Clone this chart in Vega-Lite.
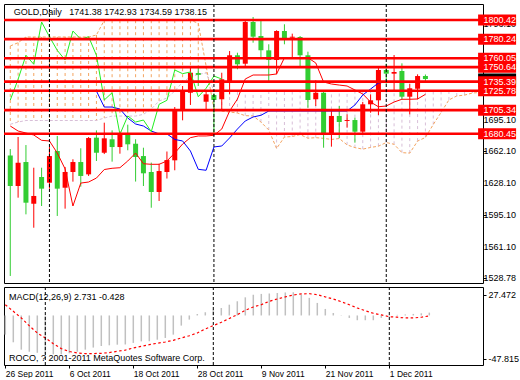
{
  "$schema": "https://vega.github.io/schema/vega-lite/v6.json",
  "padding": {"left": 2, "top": 3, "right": 0, "bottom": 0},
  "spacing": 2,
  "background": "white",
  "config": {
    "view": {"stroke": "#000000", "strokeWidth": 1},
    "axis": {"labelFont": "Liberation Sans", "labelFontSize": 9, "labelColor": "#000000", "tickColor": "#000000", "domain": false, "grid": false, "tickSize": 3, "labelPadding": 2, "labelOverlap": false, "labelBound": false},
    "text": {"font": "Liberation Sans", "fontSize": 9}
  },
  "datasets": {
    "candles": [
      {"i":0,"o":1657.6,"h":1664.3,"l":1530.4,"c":1625.3},
      {"i":1,"o":1625.3,"h":1677.0,"l":1613.0,"c":1649.9},
      {"i":2,"o":1650.6,"h":1668.5,"l":1595.4,"c":1607.7},
      {"i":3,"o":1606.6,"h":1644.6,"l":1581.3,"c":1614.8},
      {"i":4,"o":1634.8,"h":1644.6,"l":1604.2,"c":1622.5},
      {"i":5,"o":1628.8,"h":1666.4,"l":1622.5,"c":1656.9},
      {"i":6,"o":1662.2,"h":1678.1,"l":1593.7,"c":1622.5},
      {"i":7,"o":1623.5,"h":1645.4,"l":1601.4,"c":1640.1},
      {"i":8,"o":1640.1,"h":1653.5,"l":1629.9,"c":1650.6},
      {"i":9,"o":1650.6,"h":1665.1,"l":1624.6,"c":1635.9},
      {"i":10,"o":1637.6,"h":1677.0,"l":1635.9,"c":1675.9},
      {"i":11,"o":1676.3,"h":1684.0,"l":1651.7,"c":1660.4},
      {"i":12,"o":1660.4,"h":1692.1,"l":1659.0,"c":1675.6},
      {"i":13,"o":1674.6,"h":1684.0,"l":1651.0,"c":1666.4},
      {"i":14,"o":1666.4,"h":1683.0,"l":1659.4,"c":1680.5},
      {"i":15,"o":1679.8,"h":1690.0,"l":1663.0,"c":1669.3},
      {"i":16,"o":1669.9,"h":1674.6,"l":1630.0,"c":1655.9},
      {"i":17,"o":1656.9,"h":1665.7,"l":1625.3,"c":1638.7},
      {"i":18,"o":1640.1,"h":1650.0,"l":1602.4,"c":1619.0},
      {"i":19,"o":1619.0,"h":1648.8,"l":1609.5,"c":1641.1},
      {"i":20,"o":1640.1,"h":1661.7,"l":1633.2,"c":1652.7},
      {"i":21,"o":1652.4,"h":1708.6,"l":1641.9,"c":1706.2},
      {"i":22,"o":1704.4,"h":1730.8,"l":1694.6,"c":1725.5},
      {"i":23,"o":1723.7,"h":1751.9,"l":1710.8,"c":1744.8},
      {"i":24,"o":1744.5,"h":1751.9,"l":1730.8,"c":1742.5},
      {"i":25,"o":1714.2,"h":1725.5,"l":1704.4,"c":1722.0},
      {"i":26,"o":1721.3,"h":1723.0,"l":1680.0,"c":1716.0},
      {"i":27,"o":1716.8,"h":1744.8,"l":1706.2,"c":1737.9},
      {"i":28,"o":1736.1,"h":1767.7,"l":1722.0,"c":1763.2},
      {"i":29,"o":1763.2,"h":1765.9,"l":1748.4,"c":1753.7},
      {"i":30,"o":1754.3,"h":1800.0,"l":1751.9,"c":1798.3},
      {"i":31,"o":1798.3,"h":1803.6,"l":1776.5,"c":1782.8},
      {"i":32,"o":1783.5,"h":1800.1,"l":1761.4,"c":1768.4},
      {"i":33,"o":1768.4,"h":1774.8,"l":1735.3,"c":1758.2},
      {"i":34,"o":1758.2,"h":1789.6,"l":1743.1,"c":1788.8},
      {"i":35,"o":1788.8,"h":1795.9,"l":1774.8,"c":1780.1},
      {"i":36,"o":1781.7,"h":1786.0,"l":1760.6,"c":1782.8},
      {"i":37,"o":1782.5,"h":1783.5,"l":1751.9,"c":1763.2},
      {"i":38,"o":1763.2,"h":1767.0,"l":1707.9,"c":1716.0},
      {"i":39,"o":1716.8,"h":1736.8,"l":1709.7,"c":1723.7},
      {"i":40,"o":1723.7,"h":1725.0,"l":1665.7,"c":1679.8},
      {"i":41,"o":1679.8,"h":1704.4,"l":1666.8,"c":1699.2},
      {"i":42,"o":1699.2,"h":1709.7,"l":1675.9,"c":1692.8},
      {"i":43,"o":1693.9,"h":1700.9,"l":1686.8,"c":1694.9},
      {"i":44,"o":1694.9,"h":1697.4,"l":1671.0,"c":1682.6},
      {"i":45,"o":1682.6,"h":1714.0,"l":1680.2,"c":1711.5},
      {"i":46,"o":1711.5,"h":1722.0,"l":1702.6,"c":1715.7},
      {"i":47,"o":1715.7,"h":1750.1,"l":1700.2,"c":1747.7},
      {"i":48,"o":1747.7,"h":1754.3,"l":1733.2,"c":1743.8},
      {"i":49,"o":1743.8,"h":1763.5,"l":1725.5,"c":1745.6},
      {"i":50,"o":1746.6,"h":1754.7,"l":1716.8,"c":1719.5},
      {"i":51,"o":1719.5,"h":1733.2,"l":1700.9,"c":1728.4},
      {"i":52,"o":1727.9,"h":1743.1,"l":1716.8,"c":1741.3},
      {"i":53,"o":1741.38,"h":1742.93,"l":1734.59,"c":1738.15}
    ],
    "tk": [
      {"i":0,"t":1688.6,"k":1725.5},{"i":1,"t":1683.3,"k":1725.5},{"i":2,"t":1681.2,"k":1725.5},
      {"i":3,"t":1679.1,"k":1725.5},{"i":4,"t":1673.5,"k":1725.5},{"i":5,"t":1672.8,"k":1725.5},
      {"i":6,"t":1660.1,"k":1725.5},{"i":7,"t":1643.3,"k":1725.5},{"i":8,"t":1604.2,"k":1725.5},
      {"i":9,"t":1628.4,"k":1725.5},{"i":10,"t":1629.5,"k":1725.5},{"i":11,"t":1633.7,"k":1725.5},
      {"i":12,"t":1642.7,"k":1708.6},{"i":13,"t":1644.0,"k":1708.6},{"i":14,"t":1644.6,"k":1706.5},
      {"i":15,"t":1651.7,"k":1697.0},{"i":16,"t":1660.1,"k":1690.7},{"i":17,"t":1648.8,"k":1688.6},
      {"i":18,"t":1648.2,"k":1683.3},{"i":19,"t":1648.2,"k":1680.2},{"i":20,"t":1651.7,"k":1680.2},
      {"i":21,"t":1660.1,"k":1674.4},{"i":22,"t":1669.6,"k":1672.8},{"i":23,"t":1676.3,"k":1662.2},
      {"i":24,"t":1678.1,"k":1642.9},{"i":25,"t":1678.1,"k":1641.9},{"i":26,"t":1678.8,"k":1666.5},
      {"i":27,"t":1685.4,"k":1667.5},{"i":28,"t":1704.4,"k":1676.0},{"i":29,"t":1717.0,"k":1685.4},
      {"i":30,"t":1738.2,"k":1693.9},{"i":31,"t":1742.4,"k":1698.1},{"i":32,"t":1742.4,"k":1699.9},
      {"i":33,"t":1742.4,"k":1704.4},{"i":34,"t":1743.5,"k":1704.4},{"i":35,"t":1760.6,"k":1704.4},
      {"i":36,"t":1760.6,"k":1704.4},{"i":37,"t":1760.6,"k":1704.4},{"i":38,"t":1760.6,"k":1704.4},
      {"i":39,"t":1755.1,"k":1704.4},{"i":40,"t":1735.0,"k":1704.4},{"i":41,"t":1732.9,"k":1704.4},
      {"i":42,"t":1731.8,"k":1704.4},{"i":43,"t":1730.8,"k":1704.4},{"i":44,"t":1726.6,"k":1710.8},
      {"i":45,"t":1722.4,"k":1721.3},{"i":46,"t":1713.9,"k":1727.6},{"i":47,"t":1708.9,"k":1734.0},
      {"i":48,"t":1709.7,"k":1735.0},{"i":49,"t":1713.9,"k":1735.0},{"i":50,"t":1716.8,"k":1735.0},
      {"i":51,"t":1716.8,"k":1735.0},{"i":52,"t":1717.1,"k":1735.0},{"i":53,"t":1722.0,"k":1735.0}
    ],
    "chikou": [
      {"i":0,"v":1716.0},{"i":1,"v":1737.9},{"i":2,"v":1763.2},{"i":3,"v":1753.7},{"i":4,"v":1798.3},
      {"i":5,"v":1782.8},{"i":6,"v":1768.4},{"i":7,"v":1758.2},{"i":8,"v":1788.8},{"i":9,"v":1780.1},
      {"i":10,"v":1782.8},{"i":11,"v":1763.2},{"i":12,"v":1716.0},{"i":13,"v":1723.7},{"i":14,"v":1679.8},
      {"i":15,"v":1699.2},{"i":16,"v":1692.8},{"i":17,"v":1694.9},{"i":18,"v":1682.6},{"i":19,"v":1711.5},
      {"i":20,"v":1715.7},{"i":21,"v":1747.7},{"i":22,"v":1743.8},{"i":23,"v":1745.6},{"i":24,"v":1719.5},
      {"i":25,"v":1728.4},{"i":26,"v":1741.3},{"i":27,"v":1738.15}
    ],
    "kumo": [
      {"i":0,"a":1773.0,"b":1690.4},{"i":1,"a":1776.5,"b":1692.8},{"i":2,"a":1782.5,"b":1694.4},
      {"i":3,"a":1782.5,"b":1694.4},{"i":4,"a":1782.5,"b":1694.4},{"i":5,"a":1782.5,"b":1694.4},
      {"i":6,"a":1782.5,"b":1694.4},{"i":7,"a":1782.5,"b":1694.4},{"i":8,"a":1782.5,"b":1694.4},
      {"i":9,"a":1782.5,"b":1694.4},{"i":10,"a":1782.5,"b":1694.4},{"i":11,"a":1784.6,"b":1694.4},
      {"i":12,"a":1800.2,"b":1697.0},{"i":13,"a":1800.2,"b":1699.1},{"i":14,"a":1800.2,"b":1699.1},
      {"i":15,"a":1800.2,"b":1699.1},{"i":16,"a":1800.2,"b":1699.1},{"i":17,"a":1800.2,"b":1700.9},
      {"i":18,"a":1800.2,"b":1706.5},{"i":19,"a":1800.2,"b":1715.0},{"i":20,"a":1800.2,"b":1718.1},
      {"i":21,"a":1800.2,"b":1725.5},{"i":22,"a":1800.2,"b":1735.0},{"i":23,"a":1800.2,"b":1740.3},
      {"i":24,"a":1797.0,"b":1743.1},{"i":25,"a":1752.0,"b":1744.5},{"i":26,"a":1707.1,"b":1725.9},
      {"i":27,"a":1704.4,"b":1725.9},{"i":28,"a":1703.4,"b":1725.9},{"i":29,"a":1702.3,"b":1725.9},
      {"i":30,"a":1699.5,"b":1725.9},{"i":31,"a":1699.2,"b":1725.9},{"i":32,"a":1692.8,"b":1725.9},
      {"i":33,"a":1684.4,"b":1725.9},{"i":34,"a":1664.9,"b":1725.9},{"i":35,"a":1677.0,"b":1725.9},
      {"i":36,"a":1677.5,"b":1725.9},{"i":37,"a":1679.6,"b":1725.9},{"i":38,"a":1675.7,"b":1725.9},
      {"i":39,"a":1676.3,"b":1725.9},{"i":40,"a":1675.6,"b":1725.9},{"i":41,"a":1674.4,"b":1725.9},
      {"i":42,"a":1675.4,"b":1725.9},{"i":43,"a":1668.7,"b":1725.9},{"i":44,"a":1665.8,"b":1725.9},
      {"i":45,"a":1664.2,"b":1725.9},{"i":46,"a":1666.0,"b":1725.9},{"i":47,"a":1667.3,"b":1725.9},
      {"i":48,"a":1671.2,"b":1725.9},{"i":49,"a":1669.3,"b":1725.9},{"i":50,"a":1660.5,"b":1725.9},
      {"i":51,"a":1660.0,"b":1725.9},{"i":52,"a":1672.7,"b":1725.9},{"i":53,"a":1676.5,"b":1725.9},
      {"i":54,"a":1690.2,"b":1725.9},{"i":55,"a":1702.9,"b":1725.9},{"i":56,"a":1716.1,"b":1725.9},
      {"i":57,"a":1720.3,"b":1725.9},{"i":58,"a":1721.2,"b":1725.9},{"i":59,"a":1723.4,"b":1725.9},
      {"i":60,"a":1724.0,"b":1725.9}
    ],
    "levels": [
      {"p":1800.42},{"p":1780.24},{"p":1760.05},{"p":1750.64},
      {"p":1735.39},{"p":1725.78},{"p":1705.34},{"p":1680.45}
    ],
    "ticks": [
      {"p":1796.1},{"p":1695.1},{"p":1662.1},
      {"p":1628.1},{"p":1595.1},{"p":1561.1},{"p":1528.78}
    ],
    "price": [{"p":1738.15}],
    "seps": [{"i":5},{"i":26},{"i":48}],
    "notes": [
      {"panel":"main","t":"GOLD,Daily\u00a0\u00a0 1741.38 1742.93 1734.59 1738.15","x":0.45,"y":1808.9},
      {"panel":"macd","t":"MACD(12,26,9) 2.731 -0.428","x":0.45,"y":17.86},
      {"panel":"macd","t":"ROCO, ? 2001-2011 MetaQuotes Software Corp.","x":0.45,"y":-41.0}
    ],
    "macd": [
      {"i":0,"z":0,"m":-18.5,"s":10.4},{"i":1,"z":0,"m":-25.9,"s":4.0},{"i":2,"z":0,"m":-33.0,"s":-2.4},
      {"i":3,"z":0,"m":-35.0,"s":-10.0},{"i":4,"z":0,"m":-36.0,"s":-16.9},{"i":5,"z":0,"m":-37.0,"s":-21.7},
      {"i":6,"z":0,"m":-37.5,"s":-27.2},{"i":7,"z":0,"m":-37.5,"s":-32.0},{"i":8,"z":0,"m":-36.5,"s":-34.8},
      {"i":9,"z":0,"m":-35.0,"s":-36.2},{"i":10,"z":0,"m":-33.0,"s":-36.8},{"i":11,"z":0,"m":-31.0,"s":-36.8},
      {"i":12,"z":0,"m":-29.5,"s":-36.5},{"i":13,"z":0,"m":-28.8,"s":-35.8},{"i":14,"z":0,"m":-28.2,"s":-34.6},
      {"i":15,"z":0,"m":-28.0,"s":-33.4},{"i":16,"z":0,"m":-26.5,"s":-31.4},{"i":17,"z":0,"m":-25.0,"s":-29.8},
      {"i":18,"z":0,"m":-24.9,"s":-28.2},{"i":19,"z":0,"m":-23.4,"s":-26.8},{"i":20,"z":0,"m":-21.7,"s":-25.6},
      {"i":21,"z":0,"m":-18.5,"s":-24.0},{"i":22,"z":0,"m":-9.8,"s":-21.7},{"i":23,"z":0,"m":-4.0,"s":-19.6},
      {"i":24,"z":0,"m":1.4,"s":-16.9},{"i":25,"z":0,"m":3.1,"s":-13.0},{"i":26,"z":0,"m":5.6,"s":-9.8},
      {"i":27,"z":0,"m":7.2,"s":-6.6},{"i":28,"z":0,"m":10.4,"s":-2.9},{"i":29,"z":0,"m":13.7,"s":0.8},
      {"i":30,"z":0,"m":17.5,"s":5.0},{"i":31,"z":0,"m":20.0,"s":8.2},{"i":32,"z":0,"m":20.8,"s":10.4},
      {"i":33,"z":0,"m":21.2,"s":13.7},{"i":34,"z":0,"m":21.7,"s":15.9},{"i":35,"z":0,"m":22.2,"s":17.9},
      {"i":36,"z":0,"m":22.4,"s":19.8},{"i":37,"z":0,"m":20.1,"s":20.8},{"i":38,"z":0,"m":17.0,"s":21.0},
      {"i":39,"z":0,"m":12.1,"s":20.1},{"i":40,"z":0,"m":6.3,"s":17.9},{"i":41,"z":0,"m":2.4,"s":15.9},
      {"i":42,"z":0,"m":-0.3,"s":13.3},{"i":43,"z":0,"m":-2.4,"s":10.4},{"i":44,"z":0,"m":-4.6,"s":7.2},
      {"i":45,"z":0,"m":-4.6,"s":4.6},{"i":46,"z":0,"m":-4.6,"s":2.1},{"i":47,"z":0,"m":-2.4,"s":0.5},
      {"i":48,"z":0,"m":-1.0,"s":-1.2},{"i":49,"z":0,"m":0.6,"s":-1.7},{"i":50,"z":0,"m":1.0,"s":-2.4},
      {"i":51,"z":0,"m":1.5,"s":-2.4},{"i":52,"z":0,"m":2.1,"s":-1.7},{"i":53,"z":0,"m":2.731,"s":-0.428}
    ]
  },
  "vconcat": [
    {
      "width": 479,
      "height": 279,
      "data": {"name": "candles"},
      "layer": [
        {
          "data": {"name": "kumo"},
          "mark": {"type": "rule", "strokeDash": [3, 3], "strokeWidth": 1, "clip": true},
          "encoding": {
            "x": {"field": "i", "type": "quantitative", "scale": {"domain": [-0.1625, 59.7125], "nice": false, "zero": false}, "axis": null},
            "y": {"field": "a", "type": "quantitative", "scale": {"domain": [1522.99, 1817.3], "nice": false, "zero": false},
              "axis": {"orient": "right", "values": [1796.1, 1762.1, 1729.1, 1695.1, 1662.1, 1628.1, 1595.1, 1561.1, 1528.78], "labels": false, "title": null}},
            "y2": {"field": "b"},
            "color": {"condition": {"test": "datum.a >= datum.b", "value": "#F4A460"}, "value": "#D8BFD8"}
          }
        },
        {
          "data": {"name": "kumo"},
          "mark": {"type": "line", "color": "#F4A460", "strokeDash": [3, 2], "strokeWidth": 1, "clip": true},
          "encoding": {
            "x": {"field": "i", "type": "quantitative"},
            "y": {"field": "a", "type": "quantitative"}
          }
        },
        {
          "data": {"name": "kumo"},
          "mark": {"type": "line", "color": "#D8BFD8", "strokeDash": [3, 2], "strokeWidth": 1, "clip": true},
          "encoding": {
            "x": {"field": "i", "type": "quantitative"},
            "y": {"field": "b", "type": "quantitative"}
          }
        },
        {
          "mark": {"type": "rule", "strokeWidth": 1, "clip": true},
          "encoding": {
            "x": {"field": "i", "type": "quantitative"},
            "y": {"field": "l", "type": "quantitative"},
            "y2": {"field": "h"},
            "color": {"condition": {"test": "datum.c < datum.o", "value": "#32CD32"}, "value": "#FF0000"}
          }
        },
        {
          "mark": {"type": "bar", "size": 5, "clip": true},
          "encoding": {
            "x": {"field": "i", "type": "quantitative"},
            "y": {"field": "o", "type": "quantitative"},
            "y2": {"field": "c"},
            "color": {"condition": {"test": "datum.c < datum.o", "value": "#32CD32"}, "value": "#FF0000"}
          }
        },
        {
          "data": {"name": "tk"},
          "mark": {"type": "line", "color": "#FF0000", "strokeWidth": 1, "clip": true},
          "encoding": {
            "x": {"field": "i", "type": "quantitative"},
            "y": {"field": "t", "type": "quantitative"}
          }
        },
        {
          "data": {"name": "tk"},
          "mark": {"type": "line", "color": "#0000FF", "strokeWidth": 1, "clip": true},
          "encoding": {
            "x": {"field": "i", "type": "quantitative"},
            "y": {"field": "k", "type": "quantitative"}
          }
        },
        {
          "data": {"name": "chikou"},
          "mark": {"type": "line", "color": "#22EE22", "strokeWidth": 1, "clip": true},
          "encoding": {
            "x": {"field": "i", "type": "quantitative"},
            "y": {"field": "v", "type": "quantitative"}
          }
        },
        {
          "data": {"name": "levels"},
          "mark": {"type": "rule", "color": "#FF0000", "strokeWidth": 2.7},
          "encoding": {
            "y": {"field": "p", "type": "quantitative"}
          }
        },
        {
          "data": {"name": "seps"},
          "mark": {"type": "rule", "color": "#000000", "strokeDash": [3, 2], "strokeWidth": 1},
          "encoding": {
            "x": {"field": "i", "type": "quantitative"}
          }
        },
        {
          "data": {"name": "ticks"},
          "mark": {"type": "text", "color": "#000000", "align": "left", "baseline": "middle", "fontSize": 9},
          "encoding": {
            "x": {"datum": 60.42, "type": "quantitative"},
            "y": {"field": "p", "type": "quantitative"},
            "text": {"field": "p", "type": "quantitative", "format": ".2f"}
          }
        },
        {
          "data": {"name": "price"},
          "mark": {"type": "tick", "orient": "horizontal", "size": 38, "thickness": 11, "color": "#000000", "opacity": 1},
          "encoding": {
            "x": {"datum": 62.15, "type": "quantitative"},
            "y": {"field": "p", "type": "quantitative"}
          }
        },
        {
          "data": {"name": "levels"},
          "mark": {"type": "tick", "orient": "horizontal", "size": 38, "thickness": 11, "color": "#FF0000", "opacity": 1},
          "encoding": {
            "x": {"datum": 62.15, "type": "quantitative"},
            "y": {"field": "p", "type": "quantitative"}
          }
        },
        {
          "data": {"name": "levels"},
          "mark": {"type": "text", "color": "#FFFFFF", "align": "left", "baseline": "middle", "fontSize": 9},
          "encoding": {
            "x": {"datum": 60.42, "type": "quantitative"},
            "y": {"field": "p", "type": "quantitative"},
            "text": {"field": "p", "type": "quantitative", "format": ".2f"}
          }
        },
        {
          "data": {"name": "notes"},
          "transform": [{"filter": "datum.panel == 'main'"}],
          "mark": {"type": "text", "color": "#000000", "align": "left", "baseline": "middle", "fontSize": 9},
          "encoding": {
            "x": {"field": "x", "type": "quantitative"},
            "y": {"field": "y", "type": "quantitative"},
            "text": {"field": "t", "type": "nominal"}
          }
        }
      ]
    },
    {
      "width": 479,
      "height": 78,
      "data": {"name": "macd"},
      "layer": [
        {
          "mark": {"type": "rule", "color": "#C0C0C0", "strokeWidth": 1.5},
          "encoding": {
            "x": {"field": "i", "type": "quantitative", "scale": {"domain": [-0.1625, 59.7125], "nice": false, "zero": false},
              "axis": {"orient": "bottom", "values": [0, 8, 16, 24, 32, 40, 48], "labelExpr": "['26 Sep 2011','6 Oct 2011','18 Oct 2011','28 Oct 2011','9 Nov 2011','21 Nov 2011','1 Dec 2011'][round(datum.value/8)]", "labelAlign": "left", "labelFlush": false, "labelOverlap": false, "labelFontSize": 8.5, "labelPadding": 1, "title": null}},
            "y": {"field": "z", "type": "quantitative", "scale": {"domain": [-47.815, 27.472], "nice": false, "zero": false},
              "axis": {"orient": "right", "values": [20.1, 0, -42.0], "labelExpr": "datum.value > 1 ? '27.472' : (datum.value < -1 ? '-47.815' : '0.00')", "labelOverlap": false, "title": null}},
            "y2": {"field": "m"}
          }
        },
        {
          "mark": {"type": "line", "color": "#FF0000", "strokeDash": [2.5, 2.5], "strokeWidth": 1.2},
          "encoding": {
            "x": {"field": "i", "type": "quantitative"},
            "y": {"field": "s", "type": "quantitative"}
          }
        },
        {
          "data": {"name": "seps"},
          "mark": {"type": "rule", "color": "#000000", "strokeDash": [3, 2], "strokeWidth": 1},
          "encoding": {
            "x": {"field": "i", "type": "quantitative"}
          }
        },
        {
          "data": {"name": "notes"},
          "transform": [{"filter": "datum.panel == 'macd'"}],
          "mark": {"type": "text", "color": "#000000", "align": "left", "baseline": "middle", "fontSize": 9},
          "encoding": {
            "x": {"field": "x", "type": "quantitative"},
            "y": {"field": "y", "type": "quantitative"},
            "text": {"field": "t", "type": "nominal"}
          }
        }
      ]
    }
  ]
}
